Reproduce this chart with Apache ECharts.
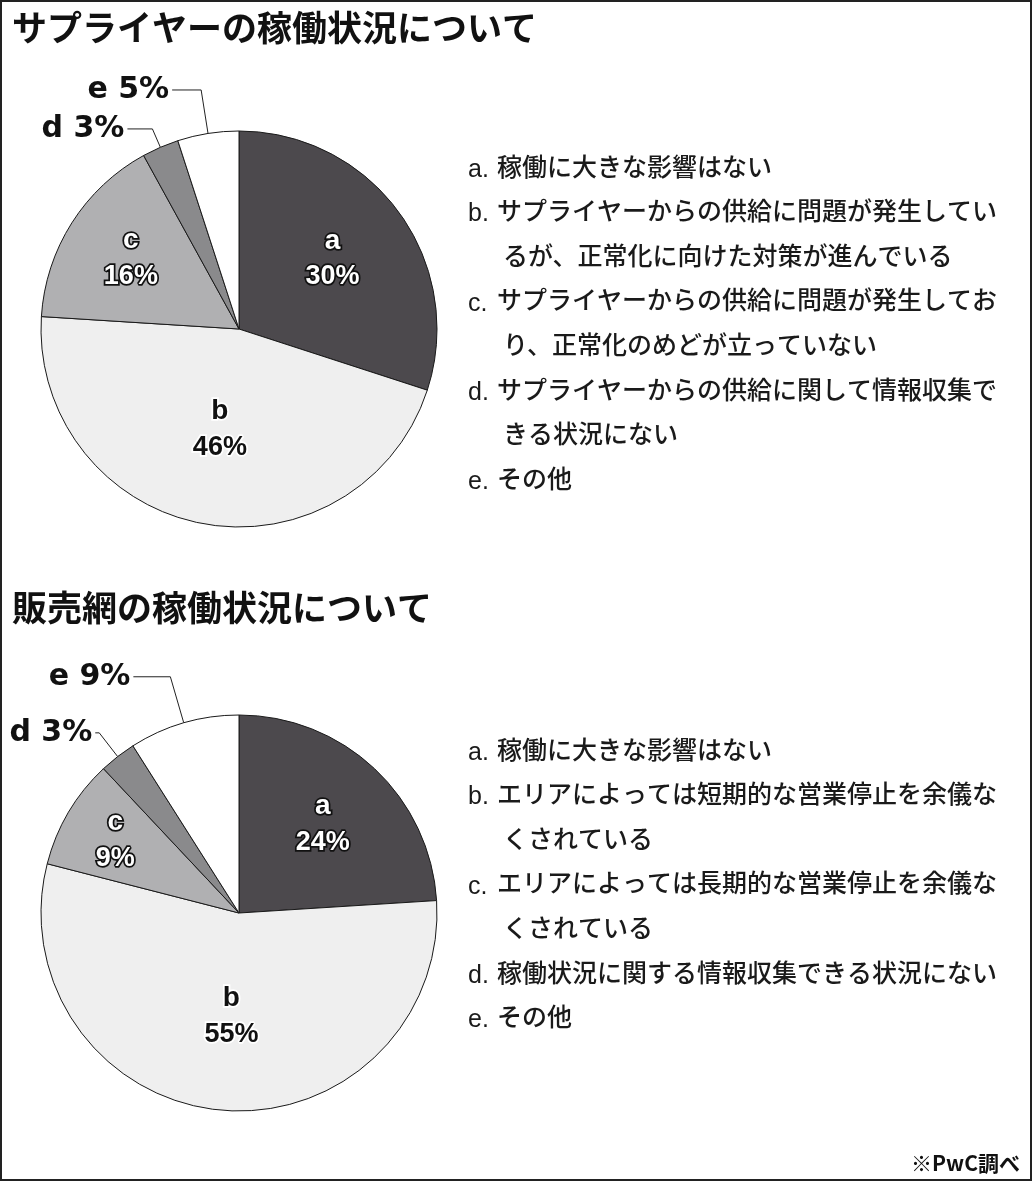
<!DOCTYPE html>
<html>
<head>
<meta charset="utf-8">
<script src="https://cdn.jsdelivr.net/npm/echarts@6/dist/echarts.min.js"></script>
<style>
html,body{margin:0;padding:0;background:#fff;}
#chart{width:1033px;height:1182px;}
</style>
</head>
<body>
<div id="chart"></div>
<script>
// ---- data ----
const categories = ['a', 'b', 'c', 'd', 'e'];
const supplierValues = [30, 46, 16, 3, 5];
const salesValues = [24, 55, 9, 3, 9];
const titleTexts = ['サプライヤーの稼働状況について', '販売網の稼働状況について'];
const supplierLegend = [
  ['a.', ['稼働に大きな影響はない']],
  ['b.', ['サプライヤーからの供給に問題が発生してい', 'るが、正常化に向けた対策が進んでいる']],
  ['c.', ['サプライヤーからの供給に問題が発生してお', 'り、正常化のめどが立っていない']],
  ['d.', ['サプライヤーからの供給に関して情報収集で', 'きる状況にない']],
  ['e.', ['その他']]
];
const salesLegend = [
  ['a.', ['稼働に大きな影響はない']],
  ['b.', ['エリアによっては短期的な営業停止を余儀な', 'くされている']],
  ['c.', ['エリアによっては長期的な営業停止を余儀な', 'くされている']],
  ['d.', ['稼働状況に関する情報収集できる状況にない']],
  ['e.', ['その他']]
];
const footnote = '※PwC調べ';

// ---- styles ----
const sliceColors = ['#4c494d', '#efefef', '#b0b0b2', '#8a8a8c', '#ffffff'];
const CJK = '"Noto Sans CJK JP", "Noto Sans", sans-serif';
const LAT = '"Liberation Sans", Arial, sans-serif';

function innerRich(dark) {
  const fill = dark ? '#ffffff' : '#111111';
  const border = dark ? '#111111' : '#ffffff';
  return {
    n: {fontFamily: LAT, fontWeight: 'bold', fontSize: 28, color: fill, textBorderColor: border, textBorderWidth: 3.5, lineHeight: 36},
    v: {fontFamily: LAT, fontWeight: 'bold', fontSize: 27, color: fill, textBorderColor: border, textBorderWidth: 3.5, lineHeight: 36}
  };
}

function makePie(values, center, outerCfg, innerOffsets) {
  const data = categories.map((c, i) => {
    const item = {name: c, value: values[i], itemStyle: {color: sliceColors[i]}};
    if (outerCfg[i]) {
      item.label = {
        show: true, position: 'outside',
        formatter: p => p.name + ' ' + p.value + '%',
        fontFamily: '"DejaVu Sans", sans-serif', fontWeight: 'bold', fontSize: 30,
        color: '#111', distanceToLabelLine: 3
      };
      item.labelLine = {show: true, length: outerCfg[i][0], length2: outerCfg[i][1], lineStyle: {color: '#222', width: 1}};
    } else {
      item.label = {
        show: true, position: 'inside',
        formatter: p => '{n|' + p.name + '}\n{v|' + p.value + '%}',
        rich: innerRich(i === 0 || i === 2),
        offset: innerOffsets[i] || [0, 0]
      };
      item.labelLine = {show: false};
    }
    return item;
  });
  return {
    type: 'pie',
    center: center,
    radius: 198,
    startAngle: 90,
    clockwise: true,
    avoidLabelOverlap: false,
    silent: true,
    itemStyle: {borderColor: '#1a1a1a', borderWidth: 1},
    emphasis: {disabled: true},
    data: data
  };
}

function legendGraphics(items, top, step) {
  const els = [];
  let line = 0;
  items.forEach(([prefix, lines]) => {
    const y0 = top + line * step;
    els.push({type: 'text', x: 468, y: y0 + 4, style: {text: prefix, font: '25px ' + LAT, fill: '#1a1a1a', verticalAlign: 'middle'}});
    lines.forEach((t, k) => {
      const y = top + (line + k) * step;
      els.push({type: 'text', x: k === 0 ? 497 : 503, y: y, style: {text: t, font: '500 25px ' + CJK, fill: '#1a1a1a', verticalAlign: 'middle'}});
    });
    line += lines.length;
  });
  return els;
}

const chart = echarts.init(document.getElementById('chart'), null, {renderer: 'canvas'});
const option = {
  backgroundColor: '#ffffff',
  animation: false,
  series: [
    makePie(supplierValues, [239, 329], [null, null, null, [20, 25], [44, 29]], [[11, -10], [0, 0], [-22, -16]]),
    makePie(salesValues, [239, 913], [null, null, null, [30, 4], [48, 37]], [[14, -14], [2, 2], [-36, -21]])
  ],
  graphic: [
    {type: 'rect', shape: {x: 1, y: 1, width: 1030, height: 1179}, style: {fill: null, stroke: '#222', lineWidth: 2}, silent: true},
    {type: 'text', x: 12, y: 28, style: {text: titleTexts[0], font: 'bold 35px ' + CJK, fill: '#111', verticalAlign: 'middle'}},
    {type: 'text', x: 12, y: 608, style: {text: titleTexts[1], font: 'bold 35px ' + CJK, fill: '#111', verticalAlign: 'middle'}},
    ...legendGraphics(supplierLegend, 166, 44.6),
    ...legendGraphics(salesLegend, 749, 44.6),
    {type: 'text', x: 1020, y: 1163, style: {text: footnote, font: 'bold 21px ' + CJK, fill: '#111', align: 'right', verticalAlign: 'middle'}}
  ]
};
chart.setOption(option);
</script>
</body>
</html>
